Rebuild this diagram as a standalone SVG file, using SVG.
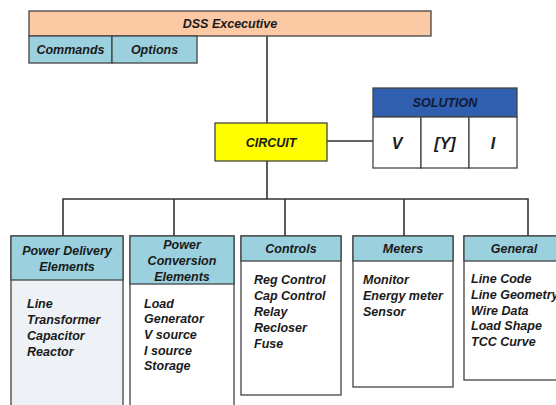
<svg xmlns="http://www.w3.org/2000/svg" width="556" height="405" viewBox="0 0 556 405">
<style>
text{font-family:"Liberation Sans",Arial,sans-serif;font-weight:bold;font-style:italic;font-size:12.5px;fill:#1a1a1a}
.c{text-anchor:middle}
.box{stroke:#444;stroke-width:1.3}
.hdr{fill:#9bd0de}
.wire{stroke:#333;stroke-width:1.6;fill:none}
</style>
<rect width="556" height="405" fill="#fff"/>
<g id="connectors">
<line class="wire" x1="267" y1="36" x2="267" y2="123"/>
<line class="wire" x1="267" y1="161" x2="267" y2="199"/>
<line class="wire" x1="327" y1="141" x2="373" y2="141"/>
<polyline class="wire" points="63,236 63,199 528,199 528,236"/>
<line class="wire" x1="174" y1="199" x2="174" y2="236"/>
<line class="wire" x1="285" y1="199" x2="285" y2="236"/>
<line class="wire" x1="404" y1="199" x2="404" y2="236"/>
</g>
<g id="dss">
<rect class="box" x="29" y="11" width="402" height="25" fill="#fbc9a3"/>
<text class="c" x="230" y="28">DSS Excecutive</text>
<rect class="box hdr" x="29" y="36" width="83" height="27"/>
<text class="c" x="70.5" y="54">Commands</text>
<rect class="box hdr" x="112" y="36" width="85" height="27"/>
<text class="c" x="154.5" y="54">Options</text>
</g>
<g id="circuit">
<rect class="box" x="215" y="123" width="112" height="38" fill="#ffff00"/>
<text class="c" x="271" y="146.5">CIRCUIT</text>
</g>
<g id="solution">
<rect class="box" x="373" y="88" width="144" height="29" fill="#2f5fae"/>
<text class="c" x="445" y="107" style="fill:#111a33">SOLUTION</text>
<rect class="box" x="373" y="117" width="48" height="51" fill="#fff"/>
<rect class="box" x="421" y="117" width="48" height="51" fill="#fff"/>
<rect class="box" x="469" y="117" width="48" height="51" fill="#fff"/>
<text class="c" x="397" y="149" style="font-size:16px">V</text>
<text class="c" x="445" y="149" style="font-size:16px">[Y]</text>
<text class="c" x="493" y="149" style="font-size:16px">I</text>
</g>
<g id="pde">
<rect class="box" x="11" y="236" width="112" height="180" fill="#eef2f7"/>
<rect class="box hdr" x="11" y="236" width="112" height="44"/>
<text class="c" x="67" y="255">Power Delivery</text>
<text class="c" x="67" y="271">Elements</text>
<text x="27" y="308">Line</text>
<text x="27" y="324">Transformer</text>
<text x="27" y="340">Capacitor</text>
<text x="27" y="356">Reactor</text>
</g>
<g id="pce">
<rect class="box" x="130" y="236" width="104" height="180" fill="#fff"/>
<rect class="box hdr" x="130" y="236" width="104" height="48"/>
<text class="c" x="182" y="248.5">Power</text>
<text class="c" x="182" y="264.5">Conversion</text>
<text class="c" x="182" y="280.5">Elements</text>
<text x="144" y="307.5">Load</text>
<text x="144" y="323">Generator</text>
<text x="144" y="339">V source</text>
<text x="144" y="355">I source</text>
<text x="144" y="370">Storage</text>
</g>
<g id="controls">
<rect class="box" x="241" y="236" width="100" height="159" fill="#fff"/>
<rect class="box hdr" x="241" y="236" width="100" height="25"/>
<text class="c" x="291" y="252.5">Controls</text>
<text x="254" y="283.5">Reg Control</text>
<text x="254" y="300">Cap Control</text>
<text x="254" y="315.5">Relay</text>
<text x="254" y="331.5">Recloser</text>
<text x="254" y="347.5">Fuse</text>
</g>
<g id="meters">
<rect class="box" x="353" y="236" width="100" height="151" fill="#fff"/>
<rect class="box hdr" x="353" y="236" width="100" height="25"/>
<text class="c" x="403" y="252.5">Meters</text>
<text x="363" y="283.5">Monitor</text>
<text x="363" y="299.5">Energy meter</text>
<text x="363" y="315.5">Sensor</text>
</g>
<g id="general">
<rect class="box" x="464" y="236" width="110" height="144" fill="#fff"/>
<rect class="box hdr" x="464" y="236" width="110" height="25"/>
<text class="c" x="514" y="252.5">General</text>
<text x="471" y="283">Line Code</text>
<text x="471" y="298.5">Line Geometry</text>
<text x="471" y="314.5">Wire Data</text>
<text x="471" y="330">Load Shape</text>
<text x="471" y="345.5">TCC Curve</text>
</g>
</svg>
